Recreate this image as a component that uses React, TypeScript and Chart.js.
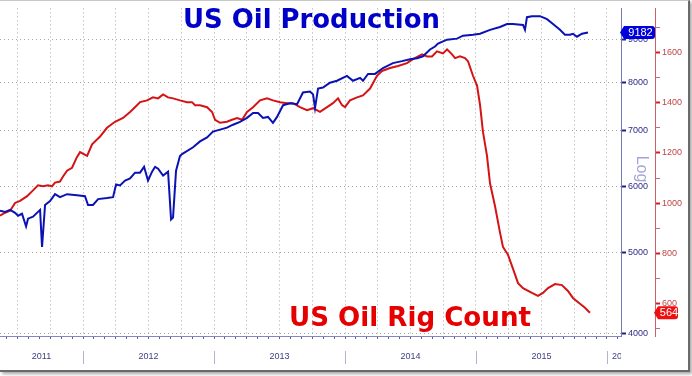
import React, { useEffect, useRef } from "react";
import { Chart, registerables } from "chart.js";

Chart.register(...registerables);

// ---- Data (decimal years) ----
const prodYears = [
  2011.366, 2011.405, 2011.443, 2011.481, 2011.504, 2011.534, 2011.565, 2011.58, 2011.618, 2011.672,
  2011.687, 2011.71, 2011.748, 2011.786, 2011.824, 2011.878, 2011.954, 2012.015, 2012.038, 2012.076,
  2012.115, 2012.183, 2012.229, 2012.252, 2012.282, 2012.321, 2012.359, 2012.397, 2012.435, 2012.466,
  2012.496, 2012.527, 2012.55, 2012.573, 2012.611, 2012.649, 2012.672, 2012.687, 2012.71, 2012.74,
  2012.756, 2012.84, 2012.893, 2012.947, 2012.992, 2013.046, 2013.099, 2013.145, 2013.198, 2013.252,
  2013.298, 2013.336, 2013.374, 2013.412, 2013.45, 2013.481, 2013.527, 2013.58, 2013.634, 2013.679,
  2013.733, 2013.756, 2013.771, 2013.794, 2013.832, 2013.885, 2013.939, 2014.015, 2014.061, 2014.115,
  2014.137, 2014.176, 2014.229, 2014.29, 2014.366, 2014.435, 2014.496, 2014.55, 2014.595, 2014.649,
  2014.687, 2014.71, 2014.779, 2014.855, 2014.901, 2014.977, 2015.031, 2015.107, 2015.183, 2015.237,
  2015.282, 2015.359, 2015.374, 2015.389, 2015.427, 2015.489, 2015.542, 2015.588, 2015.641, 2015.679,
  2015.718, 2015.74, 2015.771, 2015.809, 2015.855,
];
const prodValues = [
  5610, 5590, 5623, 5578, 5533, 5563, 5371, 5488, 5518, 5623,
  5074, 5700, 5762, 5872, 5824, 5872, 5856, 5840, 5700, 5700,
  5793, 5809, 5824, 6033, 6016, 6098, 6132, 6232, 6232, 6334,
  6098, 6249, 6334, 6300, 6181, 6249, 5474, 5503, 6266, 6525,
  6560, 6686, 6795, 6869, 6981, 7019, 7057, 7115, 7172, 7251,
  7350, 7350, 7251, 7270, 7153, 7270, 7510, 7551, 7530, 7778,
  7800, 7737, 7450, 7863, 7884, 7992, 8035, 8144, 8035, 8100,
  8035, 8188, 8188, 8322, 8436, 8482, 8528, 8550, 8597, 8761,
  8832, 8904, 9001, 9026, 9100, 9124, 9149, 9248, 9323, 9399,
  9399, 9374, 9248, 9578, 9604, 9604, 9527, 9399, 9248, 9124,
  9124, 9149, 9075, 9149, 9182,
];

const rigYears = [
  2011.366, 2011.405, 2011.443, 2011.481, 2011.519, 2011.573, 2011.618, 2011.656, 2011.695, 2011.733,
  2011.763, 2011.786, 2011.824, 2011.847, 2011.878, 2011.916, 2011.954, 2011.977, 2012.031, 2012.069,
  2012.13, 2012.183, 2012.244, 2012.305, 2012.359, 2012.412, 2012.435, 2012.489, 2012.534, 2012.573,
  2012.611, 2012.649, 2012.687, 2012.74, 2012.794, 2012.832, 2012.855, 2012.893, 2012.947, 2012.985,
  2013.008, 2013.046, 2013.099, 2013.137, 2013.176, 2013.214, 2013.252, 2013.298, 2013.351, 2013.405,
  2013.45, 2013.504, 2013.557, 2013.603, 2013.656, 2013.71, 2013.756, 2013.809, 2013.863, 2013.908,
  2013.947, 2013.977, 2014.0, 2014.038, 2014.092, 2014.137, 2014.191, 2014.244, 2014.282, 2014.344,
  2014.405, 2014.473, 2014.519, 2014.588, 2014.626, 2014.664, 2014.702, 2014.748, 2014.779, 2014.817,
  2014.84, 2014.878, 2014.916, 2014.939, 2014.977, 2015.008, 2015.031, 2015.053, 2015.084, 2015.107,
  2015.145, 2015.183, 2015.206, 2015.244, 2015.282, 2015.321, 2015.359, 2015.427, 2015.473, 2015.511,
  2015.55, 2015.603, 2015.656, 2015.702, 2015.74, 2015.794, 2015.832, 2015.87,
];
const rigValues = [
  950, 962, 970, 1001, 1009, 1028, 1051, 1071, 1067, 1071,
  1067, 1082, 1086, 1106, 1129, 1141, 1184, 1203, 1188, 1234,
  1265, 1300, 1324, 1339, 1363, 1390, 1402, 1409, 1421, 1417,
  1433, 1421, 1417, 1409, 1402, 1402, 1390, 1390, 1382, 1363,
  1332, 1320, 1324, 1332, 1339, 1332, 1363, 1382, 1409, 1417,
  1409, 1402, 1398, 1398, 1382, 1370, 1378, 1363, 1382, 1398,
  1417, 1390, 1382, 1409, 1421, 1429, 1456, 1507, 1526, 1538,
  1546, 1557, 1573, 1592, 1584, 1584, 1604, 1596, 1612, 1592,
  1577, 1584, 1577, 1565, 1507, 1468, 1390, 1285, 1188, 1079,
  989, 884, 826, 795, 740, 682, 662, 643, 631, 643,
  662, 678, 674, 651, 623, 600, 584, 564,
];

const prodTicks = [4000, 5000, 6000, 7000, 8000, 9000];
const rigTicks = [500, 600, 700, 800, 900, 1000, 1100, 1200, 1300, 1400, 1500, 1600, 1700];
const yearLabels = ["2011", "2012", "2013", "2014", "2015", "2016"];
const titleProd = "US Oil Production";
const titleRig = "US Oil Rig Count";

const X_MIN = 2011.366;
const X_MAX = 2016.107;

const BLUE_LINE = "#0a12b4";
const RED_LINE = "#d41414";

function drawTag(ctx: CanvasRenderingContext2D, tipX: number, left: number, right: number, cy: number, h: number, color: string, text: string) {
  const top = cy - h / 2;
  const bottom = cy + h / 2;
  const r = 3;
  ctx.beginPath();
  ctx.moveTo(tipX, cy);
  ctx.lineTo(left, top);
  ctx.lineTo(right - r, top);
  ctx.quadraticCurveTo(right, top, right, top + r);
  ctx.lineTo(right, bottom - r);
  ctx.quadraticCurveTo(right, bottom, right - r, bottom);
  ctx.lineTo(left, bottom);
  ctx.closePath();
  ctx.fillStyle = color;
  ctx.fill();
  ctx.fillStyle = "#ffffff";
  ctx.font = '11px "Liberation Sans", Arial, sans-serif';
  ctx.textAlign = "center";
  ctx.textBaseline = "middle";
  ctx.fillText(text, (left + right) / 2 + 1, cy + 0.5);
}

const overlayPlugin = {
  id: "overlay",
  afterDraw(chart: any) {
    const { ctx, chartArea, scales } = chart;
    const xs = scales.x;
    const yp = scales.yProd;
    const yr = scales.yRig;
    ctx.save();

    // Year separators and labels
    const labelY = 356;
    ctx.strokeStyle = "#b4b4c8";
    ctx.lineWidth = 1;
    for (let i = 1; i < yearLabels.length; i++) {
      const px = Math.round(xs.getPixelForValue(Number(yearLabels[i]))) + 0.5;
      ctx.beginPath();
      ctx.moveTo(px, labelY - 6);
      ctx.lineTo(px, labelY + 7);
      ctx.stroke();
    }
    ctx.font = '9px "Liberation Sans", Arial, sans-serif';
    ctx.fillStyle = "#3e3e80";
    ctx.textBaseline = "middle";
    yearLabels.forEach((label) => {
      const y0 = Number(label);
      const s = Math.max(X_MIN, y0);
      const e = Math.min(X_MAX, y0 + 1);
      const ps = xs.getPixelForValue(s);
      const pe = xs.getPixelForValue(e);
      const w = ctx.measureText(label).width;
      if (pe - ps > w + 10) {
        ctx.textAlign = "center";
        ctx.fillText(label, (ps + pe) / 2, labelY);
      } else {
        ctx.save();
        ctx.beginPath();
        ctx.rect(ps + 2, labelY - 8, chartArea.right - ps - 2, 16);
        ctx.clip();
        ctx.textAlign = "left";
        ctx.fillText(label, ps + 5, labelY);
        ctx.restore();
      }
    });

    // Titles
    ctx.textAlign = "left";
    ctx.textBaseline = "alphabetic";
    ctx.font = 'bold 27px "DejaVu Sans", Verdana, sans-serif';
    ctx.fillStyle = "#0000c8";
    ctx.fillText(titleProd, 183, 27, 257);
    ctx.fillStyle = "#e60000";
    ctx.fillText(titleRig, 289, 325, 242);

    // "Log" label
    ctx.save();
    ctx.translate(641, 168);
    ctx.rotate(Math.PI / 2);
    ctx.font = '16px "Liberation Sans", Arial, sans-serif';
    ctx.fillStyle = "#a4a4d4";
    ctx.textAlign = "center";
    ctx.textBaseline = "middle";
    ctx.fillText("Log", 0, 0);
    ctx.restore();

    // Last value tags
    const lastProd = prodValues[prodValues.length - 1];
    const lastRig = rigValues[rigValues.length - 1];
    const axisP = chartArea.right;
    drawTag(ctx, axisP - 1, axisP + 3, axisP + 34, yp.getPixelForValue(lastProd), 13, "#0000dc", String(lastProd));
    const axisR = yr.left;
    drawTag(ctx, axisR - 1, axisR + 3, axisR + 23, yr.getPixelForValue(lastRig), 13, "#ee1010", String(lastRig));

    ctx.restore();
  },
};

export default function App() {
  const canvasRef = useRef<HTMLCanvasElement | null>(null);

  useEffect(() => {
    const canvas = canvasRef.current;
    if (!canvas) return;
    const chart = new Chart(canvas, {
      type: "line",
      data: {
        datasets: [
          {
            label: "US Oil Production",
            data: prodYears.map((x, i) => ({ x, y: prodValues[i] })),
            yAxisID: "yProd",
            borderColor: BLUE_LINE,
            borderWidth: 2,
            pointRadius: 0,
            tension: 0,
            order: 1,
          },
          {
            label: "US Oil Rig Count",
            data: rigYears.map((x, i) => ({ x, y: rigValues[i] })),
            yAxisID: "yRig",
            borderColor: RED_LINE,
            borderWidth: 2,
            pointRadius: 0,
            tension: 0,
            order: 2,
          },
        ],
      },
      options: {
        responsive: false,
        animation: false,
        devicePixelRatio: 1,
        layout: { padding: { left: 0, right: 0, top: 0, bottom: 0 } },
        plugins: {
          legend: { display: false },
          tooltip: { enabled: false },
          title: { display: false },
        },
        scales: {
          x: {
            type: "linear",
            min: X_MIN,
            max: X_MAX,
            afterBuildTicks: (scale: any) => {
              const ticks: any[] = [];
              const startM = Math.ceil(X_MIN * 12);
              const endM = Math.floor(X_MAX * 12);
              for (let m = startM; m <= endM; m++) ticks.push({ value: m / 12 });
              scale.ticks = ticks;
            },
            afterFit: (scale: any) => {
              scale.height = 34;
            },
            ticks: { display: false, autoSkip: false },
            grid: {
              color: (c: any) => {
                const v = c.tick ? c.tick.value : 0;
                const m = Math.round(v * 12);
                return ((m % 3) + 3) % 3 === 0 ? "#a8a8a8" : "rgba(0,0,0,0)";
              },
              lineWidth: 1,
              drawTicks: true,
              tickLength: 3,
              tickColor: "#5a5a9c",
              tickWidth: 1,
            },
            border: { display: true, color: "#8484c4", width: 1, dash: [1, 3] },
          },
          yProd: {
            type: "logarithmic",
            position: "right",
            min: 3968,
            max: 9813,
            afterBuildTicks: (scale: any) => {
              scale.ticks = prodTicks.map((v) => ({ value: v }));
            },
            afterFit: (scale: any) => {
              scale.width = 34;
            },
            ticks: {
              callback: (v: any) => String(v),
              color: "#2c2c86",
              font: { family: '"Liberation Sans", Arial, sans-serif', size: 9 },
              padding: 2,
              autoSkip: false,
            },
            grid: {
              color: "#a8a8a8",
              lineWidth: 1,
              drawOnChartArea: true,
              tickLength: 5,
              tickColor: "#1e1e90",
              tickWidth: 2,
            },
            border: { display: true, color: "#7878b8", width: 1, dash: [1, 3] },
          },
          yRig: {
            type: "linear",
            position: "right",
            min: 471.6,
            max: 1775,
            afterBuildTicks: (scale: any) => {
              scale.ticks = rigTicks.map((v) => ({ value: v }));
            },
            afterFit: (scale: any) => {
              scale.width = 33;
            },
            ticks: {
              callback: (v: any) => (Number(v) % 200 === 0 ? String(v) : ""),
              color: "#bc4444",
              font: { family: '"Liberation Sans", Arial, sans-serif', size: 9 },
              padding: 2,
              autoSkip: false,
            },
            grid: {
              drawOnChartArea: false,
              tickLength: 5,
              tickColor: (c: any) => (c.tick && c.tick.value % 200 === 0 ? "#d42020" : "#c07070"),
              tickWidth: (c: any) => (c.tick && c.tick.value % 200 === 0 ? 2 : 1),
            },
            border: { display: true, color: "#c86464", width: 1 },
          },
        },
      },
      plugins: [overlayPlugin],
    } as any);
    return () => chart.destroy();
  }, []);

  return (
    <div
      style={{
        position: "fixed",
        left: 0,
        top: 0,
        width: 688,
        height: 369,
        background: "#ffffff",
        borderTop: "1px solid #c8c8c8",
        borderRight: "2px solid #6a6a6a",
        borderBottom: "2px solid #6a6a6a",
        boxShadow: "2px 2px 3px rgba(0,0,0,0.35)",
      }}
    >
      <canvas ref={canvasRef} width={688} height={369} style={{ display: "block" }} />
    </div>
  );
}
